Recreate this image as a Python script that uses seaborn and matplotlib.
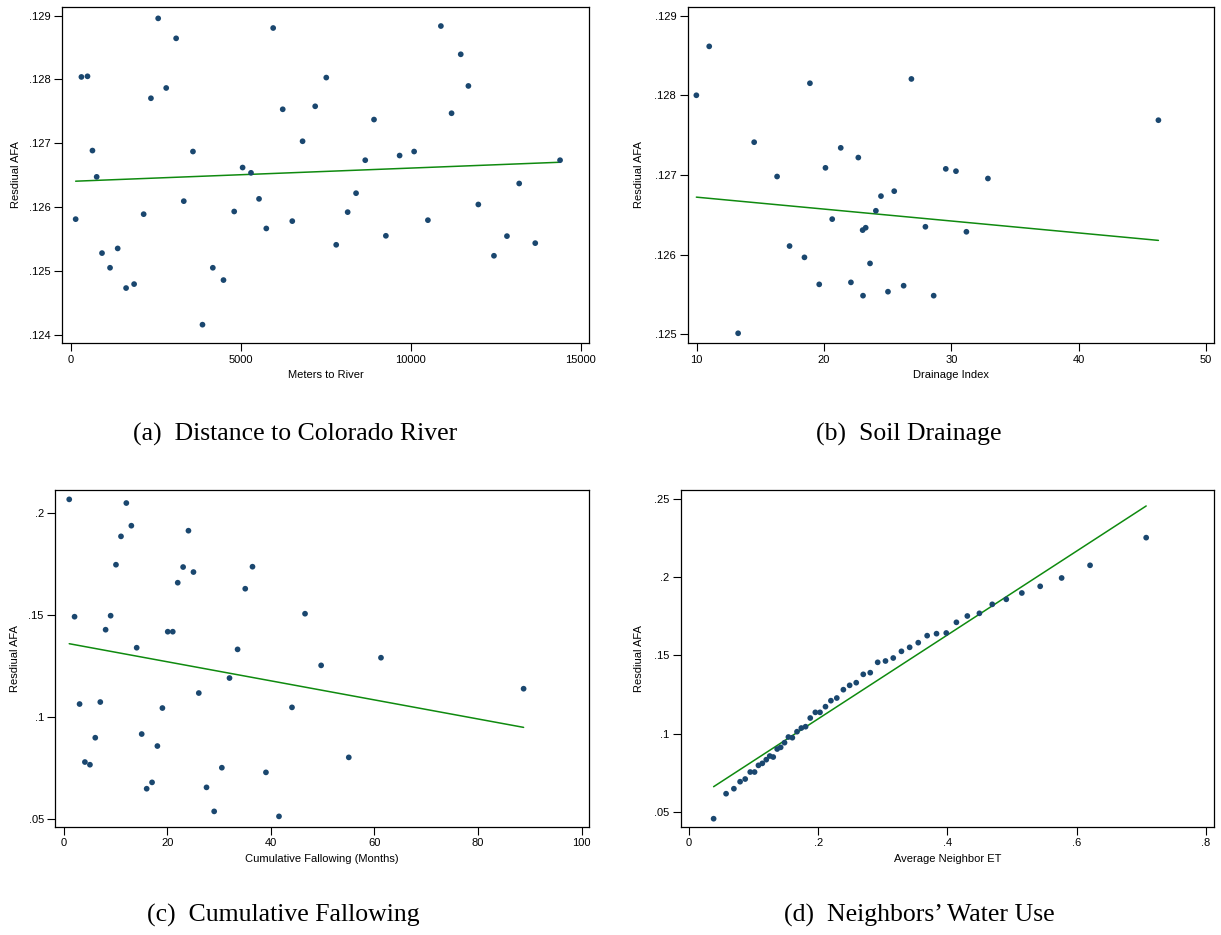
import matplotlib
matplotlib.use("Agg")
import matplotlib.pyplot as plt
import pandas as pd
import seaborn as sns

# ---------------------------------------------------------------- data
# (a) distance to the Colorado River
river_m = [146, 315, 494, 640, 764, 921, 1157, 1382, 1629, 1865, 2146, 2360,
           2573, 2809, 3101, 3326, 3596, 3876, 4180, 4494, 4809, 5056, 5303,
           5539, 5753, 5955, 6236, 6517, 6820, 7191, 7517, 7809, 8146, 8393,
           8663, 8921, 9270, 9674, 10101, 10506, 10888, 11202, 11472, 11697,
           11989, 12449, 12831, 13191, 13663, 14393]
river_afa = [.125811, .12804, .12805, .126886, .126474, .125279, .125049,
             .125352, .124731, .124793, .125889, .127706, .128958, .127867,
             .128645, .126093, .126871, .124157, .125049, .124856, .125931,
             .12662, .126537, .126129, .125665, .128807, .127533, .12578,
             .127032, .12758, .12803, .125409, .125921, .126218, .126735,
             .127372, .12555, .126808, .126871, .125795, .128838, .127471,
             .128395, .127899, .126041, .125237, .125545, .12637, .125435,
             .126735]
river_fit_x = [146, 14393]
river_fit_y = [.126406, .126703]
river_xticks = [0, 5000, 10000, 15000]
river_xtick_labels = ["0", "5000", "10000", "15000"]
river_yticks = [.124, .125, .126, .127, .128, .129]
river_ytick_labels = [".124", ".125", ".126", ".127", ".128", ".129"]

# (b) soil drainage
drain_idx = [9.97, 10.98, 13.25, 14.51, 16.31, 17.29, 18.46, 18.89, 19.62,
             20.11, 20.64, 21.31, 22.11, 22.69, 23.03, 23.06, 23.27, 23.61,
             24.07, 24.47, 25.02, 25.51, 26.25, 26.86, 27.96, 28.61, 29.56,
             30.36, 31.18, 32.87, 46.26]
drain_afa = [.128001, .128615, .125013, .127412, .126981, .126108, .125966,
             .128152, .125627, .12709, .126446, .127341, .125652, .127219,
             .126308, .125485, .126338, .12589, .126551, .126735, .125535,
             .126797, .12561, .128206, .12635, .125485, .127077, .127048,
             .126287, .126956, .127688]
drain_fit_x = [9.97, 46.26]
drain_fit_y = [.126722, .126179]
drain_xticks = [10, 20, 30, 40, 50]
drain_xtick_labels = ["10", "20", "30", "40", "50"]
drain_yticks = [.125, .126, .127, .128, .129]
drain_ytick_labels = [".125", ".126", ".127", ".128", ".129"]

# (c) cumulative fallowing
fallow_months = [1.04, 2.07, 3.04, 4.07, 5.04, 6.07, 7.04, 8.07, 9.04, 10.07,
                 11.04, 12.07, 13.04, 14.07, 15.04, 16.0, 17.04, 18.07, 19.04,
                 20.07, 21.04, 22.0, 23.04, 24.07, 25.04, 26.07, 27.56, 29.04,
                 30.52, 32.0, 33.56, 35.04, 36.44, 39.04, 41.56, 44.07, 46.59,
                 49.7, 55.04, 61.26, 88.81]
fallow_afa = [.20654, .14902, .10621, .07778, .07647, .0897, .10719, .14265,
              .14951, .17451, .1884, .20474, .19363, .13382, .0915, .0647,
              .06781, .08562, .10425, .14167, .14167, .16569, .17337, .19118,
              .17091, .1116, .06536, .05359, .075, .11895, .133, .16274,
              .17353, .07271, .05114, .10457, .15049, .12516, .08006, .12892,
              .11372]
fallow_fit_x = [1.04, 88.81]
fallow_fit_y = [.13578, .09477]
fallow_xticks = [0, 20, 40, 60, 80, 100]
fallow_xtick_labels = ["0", "20", "40", "60", "80", "100"]
fallow_yticks = [.05, .10, .15, .20]
fallow_ytick_labels = [".05", ".1", ".15", ".2"]

# (d) neighbors' water use
neighbor_et = [.038, .0573, .0694, .079, .0869, .0947, .1014, .1074, .1134,
               .1195, .1249, .1303, .1364, .1418, .1478, .1538, .1599, .1671,
               .1738, .1804, .1876, .1955, .2027, .2112, .2196, .2287, .2389,
               .2486, .2588, .2697, .2805, .292, .3041, .3161, .3288, .3415,
               .3548, .3686, .3831, .3982, .4139, .4308, .4495, .4694, .4911,
               .5152, .5436, .5768, .6208, .7077]
neighbor_afa = [.04552, .06153, .06473, .06921, .07092, .0754, .0754, .07967,
                .08095, .0833, .08565, .085, .09013, .0912, .09418, .09781,
                .09738, .10123, .10357, .10443, .10998, .11361, .11361,
                .11724, .12108, .12278, .12812, .1309, .1326, .13794, .13901,
                .14563, .14648, .1484, .15267, .15523, .15822, .1627, .16398,
                .16441, .17124, .17529, .177, .18276, .18597, .19002, .19429,
                .19963, .20774, .22545]
neighbor_fit_x = [.038, .7077]
neighbor_fit_y = [.06601, .24573]
neighbor_xticks = [0, .2, .4, .6, .8]
neighbor_xtick_labels = ["0", ".2", ".4", ".6", ".8"]
neighbor_yticks = [.05, .10, .15, .20, .25]
neighbor_ytick_labels = [".05", ".1", ".15", ".2", ".25"]

# ---------------------------------------------------------------- style
sns.set_theme(style="ticks")
plt.rcParams["font.family"] = ["Liberation Sans", "DejaVu Sans"]
plt.rcParams["axes.linewidth"] = 0.9

DOT = "#1a476f"
FIT = "#0f8a0f"
W, H = 1221, 935
SMALL = 8.0

fig = plt.figure(figsize=(W / 100, H / 100), dpi=100)
fig.patch.set_facecolor("white")


def panel(box, x, y, fit_x, fit_y, xlim, ylim, xticks, xtl, yticks, ytl,
          xlabel, ylabel_px, xlabel_px, caption, cap_xy):
    left, top, right, bottom = box
    ax = fig.add_axes([left / W, 1 - bottom / H, (right - left) / W,
                       (bottom - top) / H])
    pts = pd.DataFrame({"x": x, "y": y})
    fit = pd.DataFrame({"x": fit_x, "y": fit_y})
    sns.lineplot(data=fit, x="x", y="y", ax=ax, color=FIT, linewidth=1.1)
    sns.scatterplot(data=pts, x="x", y="y", ax=ax, color=DOT, s=17,
                    edgecolor="none", zorder=3)
    ax.set_xlim(*xlim)
    ax.set_ylim(*ylim)
    ax.set_xticks(xticks)
    ax.set_xticklabels(xtl)
    ax.set_yticks(yticks)
    ax.set_yticklabels(ytl)
    ax.tick_params(axis="both", direction="out", length=5.5, width=0.8,
                   labelsize=SMALL, pad=2.8, colors="black")
    for s in ax.spines.values():
        s.set_visible(True)
        s.set_color("black")
    ax.set_xlabel(xlabel, fontsize=SMALL, color="black")
    ax.set_ylabel("Resdiual AFA", fontsize=SMALL, color="black")
    ax.yaxis.set_label_coords((ylabel_px - left) / (right - left), 0.5)
    ax.xaxis.set_label_coords(0.5, (bottom - xlabel_px) / (bottom - top))
    ax.xaxis.label.set_va("center")
    ax.yaxis.label.set_va("center")
    fig.text(cap_xy[0] / W, 1 - cap_xy[1] / H, caption, ha="center",
             va="center", fontsize=18.5, family=["Liberation Serif"],
             color="black")
    return ax


panel((62.3, 6.7, 589.3, 343.3), river_m, river_afa, river_fit_x, river_fit_y,
      (-247, 15253), (.123865, .129141), river_xticks, river_xtick_labels,
      river_yticks, river_ytick_labels, "Meters to River", 16, 375,
      "(a)  Distance to Colorado River", (295, 434))

panel((687.7, 6.7, 1214.3, 343.3), drain_idx, drain_afa, drain_fit_x,
      drain_fit_y, (9.29, 50.65), (.124887, .129113), drain_xticks,
      drain_xtick_labels, drain_yticks, drain_ytick_labels, "Drainage Index",
      639, 375, "(b)  Soil Drainage", (909, 434))

panel((55.3, 490, 589.3, 826.7), fallow_months, fallow_afa, fallow_fit_x,
      fallow_fit_y, (-1.65, 101.5), (.04608, .21113), fallow_xticks,
      fallow_xtick_labels, fallow_yticks, fallow_ytick_labels,
      "Cumulative Fallowing (Months)", 15, 859,
      "(c)  Cumulative Fallowing", (283, 915))

panel((680.5, 490, 1214, 826.7), neighbor_et, neighbor_afa, neighbor_fit_x,
      neighbor_fit_y, (-.01327, .8127), (.0404, .25595), neighbor_xticks,
      neighbor_xtick_labels, neighbor_yticks, neighbor_ytick_labels,
      "Average Neighbor ET", 639, 859,
      "(d)  Neighbors\u2019 Water Use", (919, 915))

fig.savefig("out.png", dpi=100, facecolor="white")
